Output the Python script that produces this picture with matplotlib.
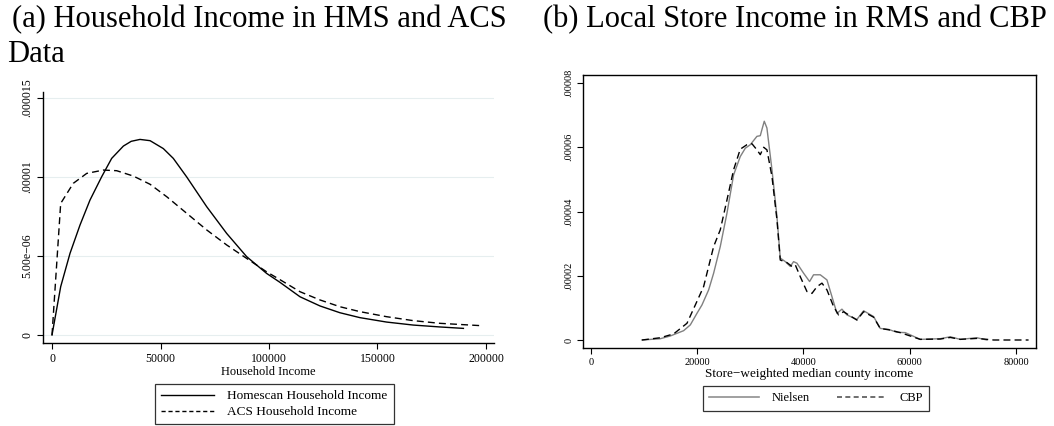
import matplotlib
matplotlib.use("Agg")
import matplotlib.pyplot as plt
from matplotlib.lines import Line2D

plt.rcParams['font.family'] = ['Liberation Serif', 'DejaVu Serif']

# ------ data ------
# (a) household income densities
hms_income = [0, 4000, 8300, 12900, 17500, 22900, 27500, 32900, 36500, 40550, 45200,
              51300, 55900, 62100, 71300, 80500, 89700, 98900, 105100, 114300, 123500,
              132700, 141900, 154200, 166500, 178800, 189600]
hms_density = [0, 3.06e-6, 5.17e-6, 6.96e-6, 8.54e-6, 1.002e-5, 1.118e-5, 1.196e-5,
               1.226e-5, 1.238e-5, 1.23e-5, 1.18e-5, 1.118e-5, 1.0e-5, 8.12e-6, 6.43e-6,
               4.96e-6, 3.9e-6, 3.33e-6, 2.42e-6, 1.84e-6, 1.41e-6, 1.1e-6, 8.2e-7,
               6.3e-7, 5.1e-7, 4.2e-7]
acs_income = [0, 4000, 9800, 16000, 23650, 29800, 37500, 45200, 52900, 62100, 71300,
              80500, 89700, 98900, 105100, 114300, 123500, 132700, 141900, 154200,
              166500, 178800, 198000]
acs_density = [0, 8.33e-6, 9.6e-6, 1.023e-5, 1.044e-5, 1.04e-5, 1.006e-5, 9.54e-6,
               8.75e-6, 7.7e-6, 6.65e-6, 5.7e-6, 4.85e-6, 4.0e-6, 3.5e-6, 2.74e-6,
               2.22e-6, 1.79e-6, 1.48e-6, 1.16e-6, 9.1e-7, 7.4e-7, 5.9e-7]

# (b) store-weighted county income densities
nielsen_income = [9600, 13050, 14930, 17440, 18700, 19950, 20890, 22150, 23090, 24340,
                  25600, 26850, 28100, 29050, 29990, 31240, 31870, 32180, 32620, 33120,
                  34070, 35010, 35630, 36580, 37520, 38140, 38770, 40020, 41150, 41900,
                  43160, 44420, 45360, 46300, 47240, 48190, 50060, 51320, 53200, 54450,
                  56020, 57590, 59160, 61980, 65750, 67630, 69510, 72650, 74530]
nielsen_density = [0, 0.4e-6, 1.25e-6, 2.9e-6, 4.7e-6, 8.3e-6, 1.09e-5, 1.56e-5, 2.08e-5,
                   2.91e-5, 3.95e-5, 5.14e-5, 5.71e-5, 5.97e-5, 6.08e-5, 6.34e-5, 6.36e-5,
                   6.55e-5, 6.81e-5, 6.6e-5, 5.3e-5, 3.84e-5, 2.55e-5, 2.44e-5, 2.29e-5,
                   2.44e-5, 2.39e-5, 2.08e-5, 1.82e-5, 2.03e-5, 2.03e-5, 1.87e-5, 1.35e-5,
                   8.3e-6, 9.6e-6, 7.8e-6, 6.4e-6, 9.1e-6, 7.3e-6, 3.6e-6, 3.3e-6, 2.4e-6,
                   2.3e-6, 0.2e-6, 0.4e-6, 1.0e-6, 0.2e-6, 0.7e-6, 0]
cbp_income = [9600, 13050, 15560, 18070, 19640, 21200, 23090, 24340, 25600, 26850, 28100,
              29360, 30300, 31240, 31870, 32500, 33120, 34070, 35010, 35630, 36890,
              37830, 38460, 39400, 40650, 41590, 42540, 43480, 44420, 45670, 46610,
              47550, 48810, 50060, 51320, 53200, 54450, 56330, 58210, 61980, 65750,
              67630, 69510, 72650, 75790, 82370]
cbp_density = [0, 0.7e-6, 1.9e-6, 5.2e-6, 1.09e-5, 1.66e-5, 2.91e-5, 3.43e-5, 4.36e-5,
               5.3e-5, 5.94e-5, 6.08e-5, 6.11e-5, 5.92e-5, 5.77e-5, 6.0e-5, 5.92e-5,
               5.09e-5, 3.74e-5, 2.49e-5, 2.41e-5, 2.29e-5, 2.34e-5, 1.97e-5, 1.51e-5,
               1.45e-5, 1.66e-5, 1.77e-5, 1.56e-5, 1.04e-5, 7.8e-6, 8.8e-6, 7.5e-6,
               6.2e-6, 8.8e-6, 7.1e-6, 3.6e-6, 3.1e-6, 2.3e-6, 0.2e-6, 0.3e-6, 0.8e-6,
               0.2e-6, 0.5e-6, 0, 0]

a_yticks = [0, 5e-6, 1e-5, 1.5e-5]
a_yticklabels = ['0', '5.00e\u221206', '.00001', '.000015']
a_xticks = [0, 50000, 100000, 150000, 200000]
b_yticks = [0, 2e-5, 4e-5, 6e-5, 8e-5]
b_yticklabels = ['0', '.00002', '.00004', '.00006', '.00008']
b_xticks = [0, 20000, 40000, 60000, 80000]

# ------ figure ------
fig = plt.figure(figsize=(10.54, 4.26), dpi=100)
ax1 = fig.add_axes([0.0408, 0.1948, 0.4279, 0.5892])
ax2 = fig.add_axes([0.5531, 0.1831, 0.4298, 0.6408])

# -- panel a --
ax1.plot(hms_income, hms_density, color='black', lw=1.0, label='Homescan Household Income')
ax1.plot(acs_income, acs_density, color='black', lw=1.0, ls=(0, (5, 3)),
         label='ACS Household Income')
ax1.set_xlim(-4150, 203700)
ax1.set_ylim(-5.06e-7, 1.538e-5)
ax1.set_yticks(a_yticks)
ax1.set_yticklabels(a_yticklabels, rotation=90, va='center')
ax1.set_xticks(a_xticks)
ax1.set_xticklabels([str(t) for t in a_xticks])
for t in a_yticks:
    ax1.axhline(t, color='#e6eeef', lw=0.8, zorder=0)
ax1.spines['top'].set_visible(False)
ax1.spines['right'].set_visible(False)
ax1.set_xlabel('Household Income', fontsize=9, labelpad=1)

# -- panel b --
ax2.plot(nielsen_income, nielsen_density, color='#808080', lw=1.0, label='Nielsen')
ax2.plot(cbp_income, cbp_density, color='black', lw=1.0, ls=(0, (5, 3)), label='CBP')
ax2.set_xlim(-1506, 83765)
ax2.set_ylim(-2.49e-6, 8.249e-5)
ax2.set_yticks(b_yticks)
ax2.set_yticklabels(b_yticklabels, rotation=90, va='center')
ax2.set_xticks(b_xticks)
ax2.set_xticklabels([str(t) for t in b_xticks])
ax2.set_xlabel('Store\u2212weighted median county income', fontsize=9.5, labelpad=1)

for ax, fs in ((ax1, 8.5), (ax2, 7.5)):
    ax.tick_params(axis='both', direction='out', length=4, width=0.8, labelsize=fs, pad=3)
    for s in ax.spines.values():
        s.set_linewidth(1.0)

# -- titles --
fig.text(12 / 1054, 1 - 27 / 426, '(a) Household Income in HMS and ACS', fontsize=22,
         ha='left', va='baseline')
fig.text(7 / 1054, 1 - 62 / 426, 'Data', fontsize=22, ha='left', va='baseline')
fig.text(543 / 1054, 1 - 27 / 426, '(b) Local Store Income in RMS and CBP', fontsize=22,
         ha='left', va='baseline')

# -- legends --
leg1 = fig.legend(handles=[Line2D([], [], color='black', lw=1.0),
                           Line2D([], [], color='black', lw=1.0, ls=(0, (3, 2)))],
                  labels=['Homescan Household Income', 'ACS Household Income'],
                  loc='upper center', bbox_to_anchor=(274.5 / 1054, 1 - 384 / 426),
                  fontsize=9.5, frameon=True, fancybox=False, edgecolor='black',
                  handlelength=4.0, borderpad=0.45, labelspacing=0.3, handletextpad=1.0,
                  borderaxespad=0)
leg1.get_frame().set_linewidth(0.9)
leg2 = fig.legend(handles=[Line2D([], [], color='#909090', lw=1.2),
                           Line2D([], [], color='#555555', lw=1.2, ls=(0, (3, 2)))],
                  labels=['Nielsen', 'CBP'], ncol=2,
                  loc='upper center', bbox_to_anchor=(816 / 1054, 1 - 386 / 426),
                  fontsize=9, frameon=True, fancybox=False, edgecolor='black',
                  handlelength=4.0, borderpad=0.5, columnspacing=2.2, handletextpad=1.0,
                  borderaxespad=0)
leg2.get_frame().set_linewidth(0.9)

fig.savefig('out.png', dpi=100)
